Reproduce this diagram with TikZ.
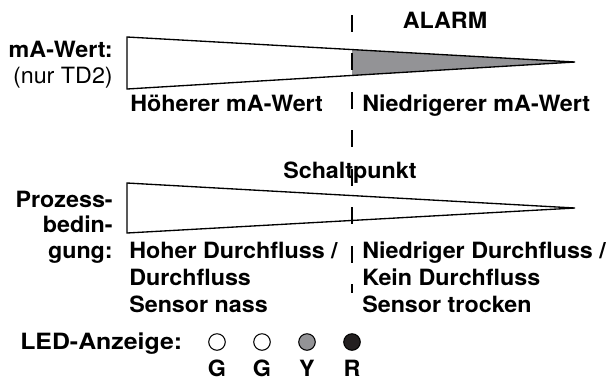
\documentclass[tikz,border=0pt]{standalone}
\usepackage{fontspec}
\setmainfont{TeX Gyre Heros}[FakeStretch=1.04]
\definecolor{wedgegray}{HTML}{939396}
\definecolor{leddark}{HTML}{231F20}
\begin{document}
\begin{tikzpicture}[x=0.75pt,y=-0.75pt,
  lbl/.style={inner sep=0pt, font=\fontsize{16.8}{20}\selectfont\bfseries},
  note/.style={inner sep=0pt, font=\fontsize{16.8}{20}\selectfont},
  widelbl/.style={inner sep=0pt, font=\fontsize{16.8}{20}\selectfont\bfseries\addfontfeatures{FakeStretch=1.11}},
  wedge/.style={draw=black, line width=1pt, line join=miter},
  marker/.style={draw=black, line width=1pt, dash pattern=on 12.75pt off 16.1pt},
  led/.style={circle, draw=black, line width=0.8pt, minimum size=12.4pt, inner sep=0pt}]
\useasboundingbox (0,0) rectangle (616,380);

% --- upper wedge: mA value, shaded beyond the switch point
\coordinate (mTopL) at (127,37);
\coordinate (mBotL) at (127,89);
\coordinate (mTip)  at (575,62);
\fill[wedgegray] (352,49.6) -- (mTip) -- (352,75.4) -- cycle;
\draw[wedge] (mTopL) -- (mTip) -- (mBotL) -- cycle;

% --- lower wedge: process condition
\coordinate (pTopL) at (127,183);
\coordinate (pBotL) at (127,233);
\coordinate (pTip)  at (575,208);
\draw[wedge] (pTopL) -- (pTip) -- (pBotL) -- cycle;

% --- switch point marker
\coordinate (swTop) at (352,15);
\coordinate (swBot) at (352,293);
\draw[marker] (swTop) -- (swBot);

% --- labels, upper part
\node[lbl, anchor=base] (alarm) at (445,28) {ALARM};
\node[lbl, anchor=base east] (maw) at (113,57) {mA-Wert:};
\node[note, anchor=base east] (td2) at (113,83) {(nur TD2)};
\node[lbl, anchor=base west] (hoeher) at (130,111) {Höherer mA-Wert};
\node[lbl, anchor=base west] (niedr) at (362,111) {Niedrigerer mA-Wert};

% --- labels, lower part
\node[lbl, anchor=base west] (schalt) at (283,178) {Schaltpunkt};
\node[lbl, anchor=base east] (proz1) at (113,207) {Prozess-};
\node[lbl, anchor=base east] (proz2) at (113,232) {bedin-};
\node[lbl, anchor=base east] (proz3) at (113,258) {gung:};
\node[lbl, anchor=base west] (hoch1) at (129,258) {Hoher Durchfluss /};
\node[lbl, anchor=base west] (hoch2) at (129,285) {Durchfluss};
\node[lbl, anchor=base west] (hoch3) at (129,312) {Sensor nass};
\node[lbl, anchor=base west] (tief1) at (362,258) {Niedriger Durchfluss /};
\node[lbl, anchor=base west] (tief2) at (362,285) {Kein Durchfluss};
\node[lbl, anchor=base west] (tief3) at (362,312) {Sensor trocken};

% --- LED indicator row
\node[widelbl, anchor=base west] (ledlbl) at (20,349) {LED-Anzeige:};
\node[led, fill=white]     (led1) at (217,342) {};
\node[led, fill=white]     (led2) at (262,342) {};
\node[led, fill=wedgegray] (led3) at (307,342) {};
\node[led, fill=leddark]   (led4) at (352,342) {};
\node[lbl, anchor=base] (c1) at (217,376) {G};
\node[lbl, anchor=base] (c2) at (262,376) {G};
\node[lbl, anchor=base] (c3) at (307,376) {Y};
\node[lbl, anchor=base] (c4) at (352,376) {R};
\end{tikzpicture}
\end{document}
